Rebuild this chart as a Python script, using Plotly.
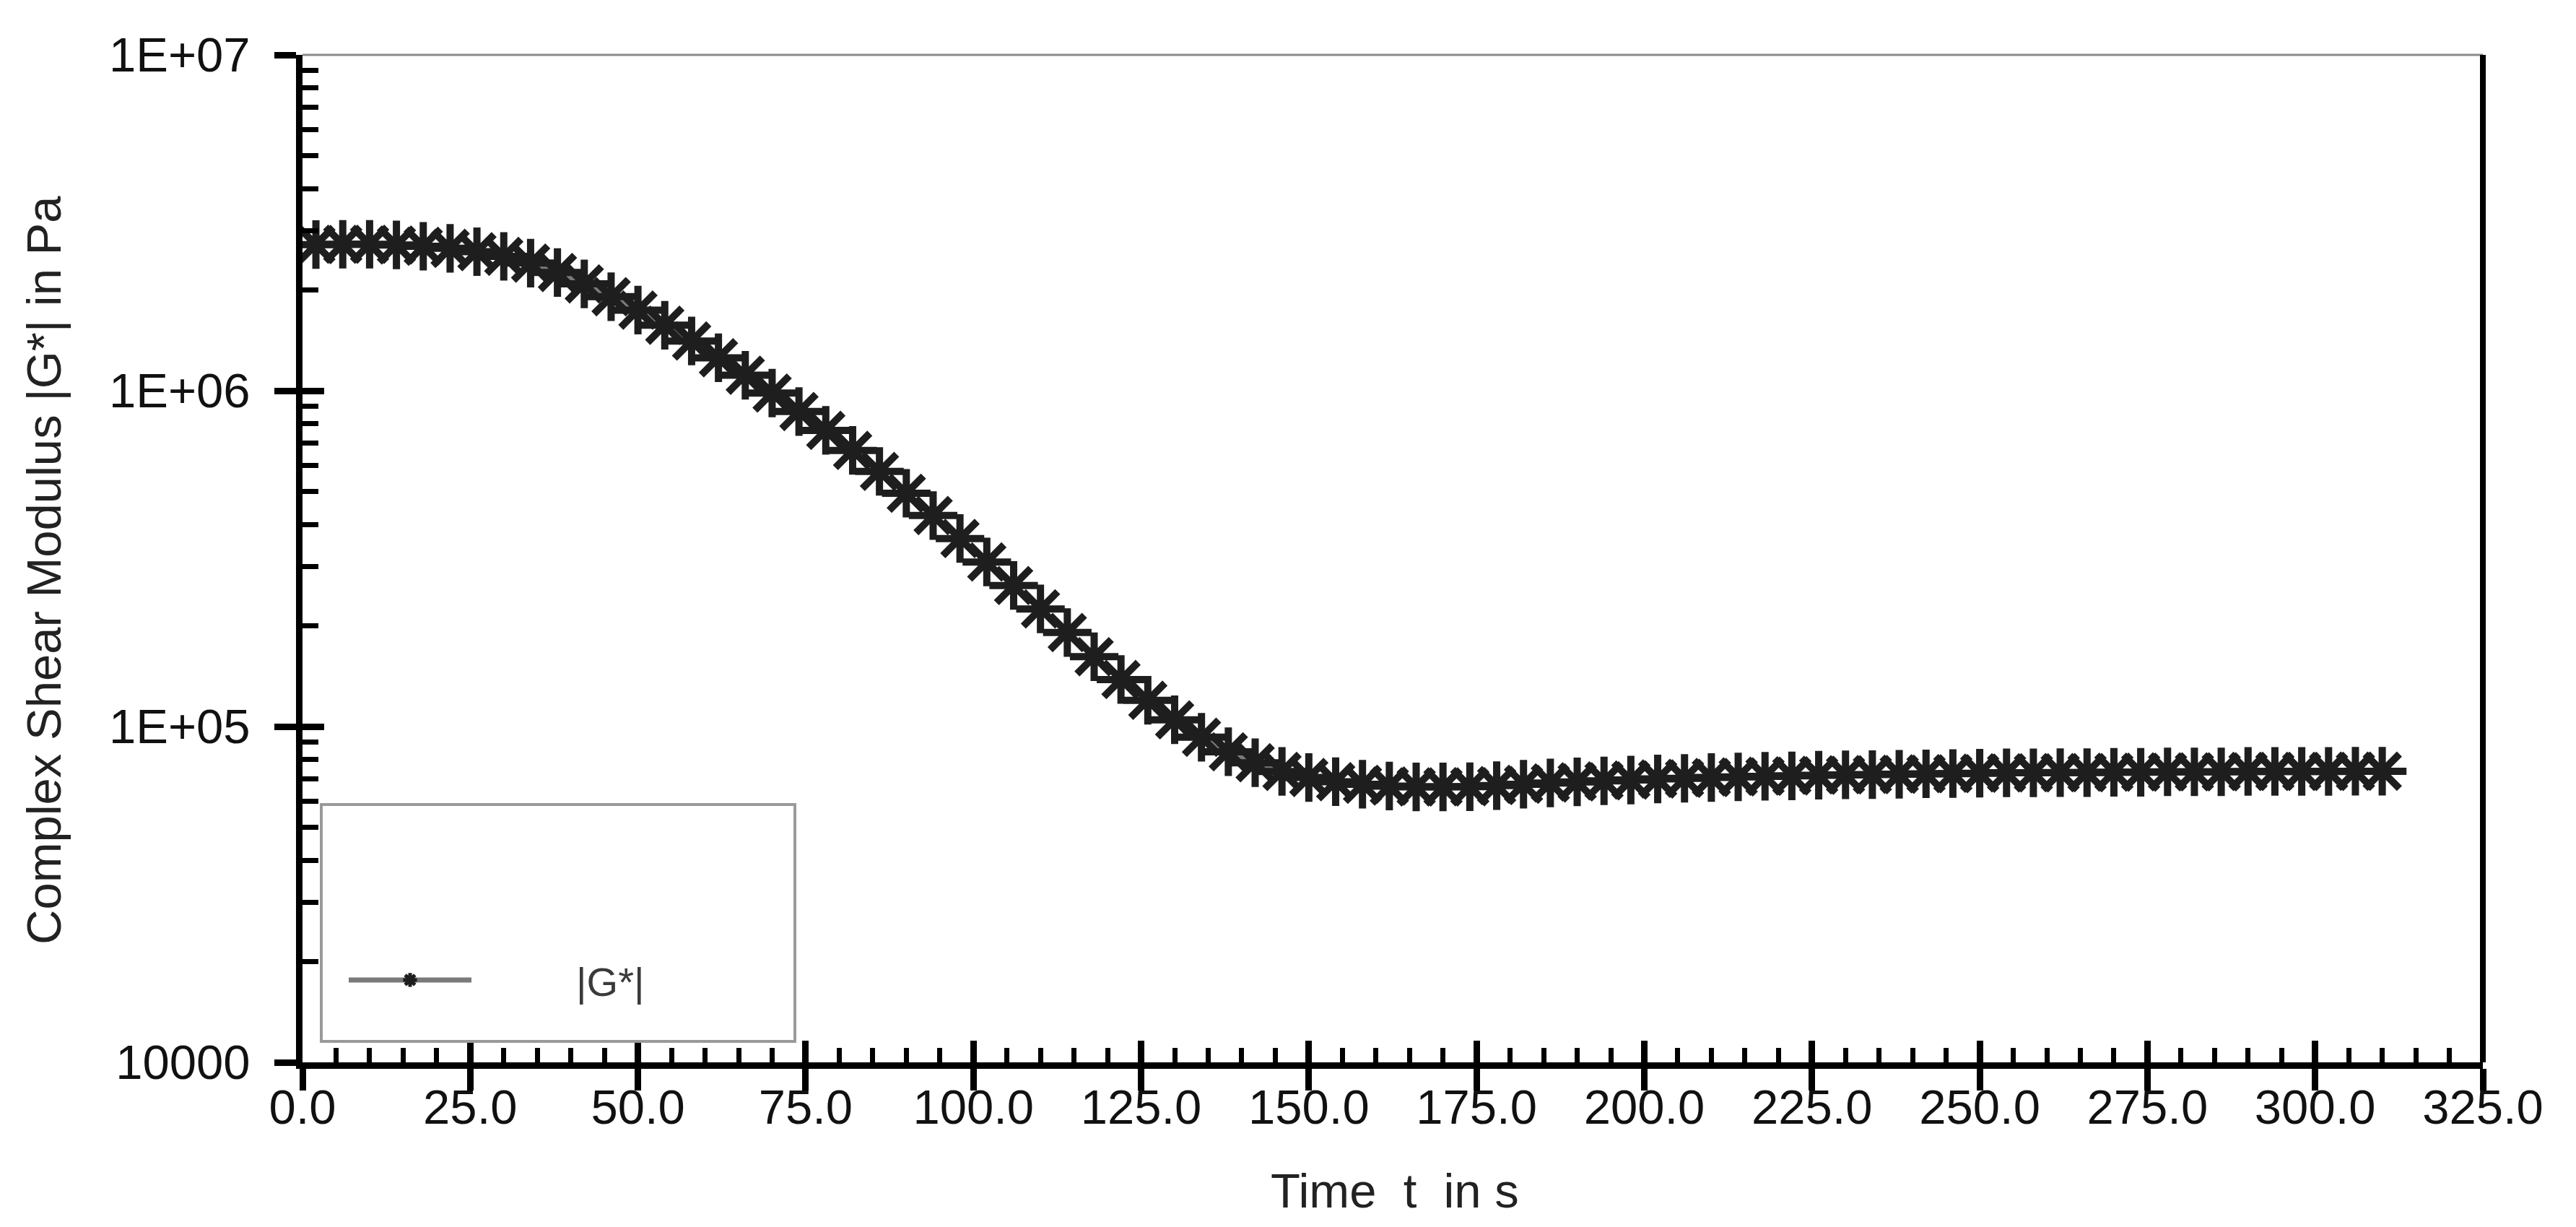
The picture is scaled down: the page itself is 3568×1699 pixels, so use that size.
import plotly.graph_objects as go

# ---- data ----
time_s = [2, 6, 10, 14, 18, 22, 26, 30, 34, 38, 42, 46, 50, 54, 58, 62, 66, 70, 74, 78,
          82, 86, 90, 94, 98, 102, 106, 110, 114, 118, 122, 126, 130, 134, 138, 142, 146, 150, 154, 158,
          162, 166, 170, 174, 178, 182, 186, 190, 194, 198, 202, 206, 210, 214, 218, 222, 226, 230, 234, 238,
          242, 246, 250, 254, 258, 262, 266, 270, 274, 278, 282, 286, 290, 294, 298, 302, 306, 310]

g_star_pa = [2.723e6, 2.729e6, 2.729e6, 2.716e6, 2.692e6, 2.655e6, 2.594e6, 2.512e6, 2.399e6, 2.249e6,
             2.080e6, 1.905e6, 1.738e6, 1.567e6, 1.406e6, 1.253e6, 1.112e6, 9.84e5, 8.67e5, 7.62e5,
             6.64e5, 5.75e5, 4.95e5, 4.25e5, 3.63e5, 3.09e5, 2.63e5, 2.24e5, 1.905e5, 1.614e5,
             1.380e5, 1.197e5, 1.047e5, 9.29e4, 8.41e4, 7.80e4, 7.35e4, 7.05e4, 6.85e4, 6.73e4,
             6.65e4, 6.61e4, 6.61e4, 6.62e4, 6.67e4, 6.73e4, 6.79e4, 6.84e4, 6.89e4, 6.93e4,
             6.98e4, 7.01e4, 7.05e4, 7.08e4, 7.11e4, 7.13e4, 7.16e4, 7.18e4, 7.19e4, 7.21e4,
             7.23e4, 7.24e4, 7.26e4, 7.28e4, 7.28e4, 7.29e4, 7.29e4, 7.31e4, 7.31e4, 7.33e4,
             7.33e4, 7.33e4, 7.35e4, 7.35e4, 7.35e4, 7.35e4, 7.36e4, 7.36e4]

series_name = "|G*|"

x_tick_vals = [0, 25, 50, 75, 100, 125, 150, 175, 200, 225, 250, 275, 300, 325]
x_tick_text = ["0.0", "25.0", "50.0", "75.0", "100.0", "125.0", "150.0", "175.0",
               "200.0", "225.0", "250.0", "275.0", "300.0", "325.0"]
y_tick_vals = [1e4, 1e5, 1e6, 1e7]
y_tick_text = ["10000", "1E+05", "1E+06", "1E+07"]

x_title = "Time\u00a0\u00a0t\u00a0\u00a0in s"
y_title = "Complex Shear Modulus |G*| in Pa"

# ---- axis configuration helpers ----
x_minor_vals = [v for v in range(0, 326, 5) if v % 25]
y_minor_vals = [m * 10 ** e for e in (4, 5, 6) for m in range(2, 10)]

FONT = "Liberation Sans, Arial, sans-serif"
W, H = 3568, 1699
ML, MR, MT, MB = 411, 137, 68, 236
PW, PH = W - ML - MR, H - MT - MB

fig = go.Figure()
fig.add_trace(go.Scatter(
    x=time_s, y=g_star_pa, mode="lines+markers",
    name="\u00a0" * 9 + series_name,
    line=dict(color="#7a7a7a", width=7),
    marker=dict(symbol="asterisk-open", size=56, color="#1e1e1e",
                line=dict(width=10, color="#1e1e1e")),
))
# empty trace that carries the overlay axes (inner halves of the crossing major ticks)
fig.add_trace(go.Scatter(x=[], y=[], xaxis="x2", yaxis="y2", showlegend=False,
                         hoverinfo="skip"))

tickfont = dict(family=FONT, size=67, color="#111111")

fig.update_layout(
    width=W, height=H,
    paper_bgcolor="white", plot_bgcolor="white",
    margin=dict(l=ML, r=MR, t=MT, b=MB),
    font=dict(family=FONT, color="#111111"),
    xaxis=dict(
        range=[0, 325], tickmode="array", tickvals=x_tick_vals, ticktext=x_tick_text,
        ticks="outside", ticklen=30, tickwidth=9, tickcolor="black",
        showline=True, linewidth=9, linecolor="black",
        showgrid=False, zeroline=False, tickfont=tickfont, ticklabelstandoff=-34,
        minor=dict(tickmode="array", tickvals=x_minor_vals, ticks="inside",
                   ticklen=20, tickwidth=7, tickcolor="black", showgrid=False),
    ),
    yaxis=dict(
        type="log", range=[4, 7], tickmode="array", tickvals=y_tick_vals, ticktext=y_tick_text,
        ticks="outside", ticklen=30, tickwidth=9, tickcolor="black",
        showline=True, linewidth=9, linecolor="black",
        showgrid=False, zeroline=False, tickfont=tickfont, ticklabelstandoff=20,
        minor=dict(tickmode="array", tickvals=y_minor_vals, ticks="inside",
                   ticklen=22, tickwidth=7, tickcolor="black", showgrid=False),
    ),
    xaxis2=dict(
        overlaying="x", anchor="y2", side="bottom", range=[0, 325],
        tickmode="array", tickvals=x_tick_vals, showticklabels=False,
        ticks="inside", ticklen=30, tickwidth=9, tickcolor="black",
        showline=False, showgrid=False, zeroline=False,
    ),
    yaxis2=dict(
        overlaying="y", anchor="x2", side="left", type="log", range=[4, 7],
        tickmode="array", tickvals=y_tick_vals, showticklabels=False,
        ticks="inside", ticklen=30, tickwidth=9, tickcolor="black",
        showline=False, showgrid=False, zeroline=False,
    ),
    showlegend=True,
    legend=dict(
        x=(470 - ML) / PW, y=(1463 - 1349) / PH,
        xanchor="left", yanchor="middle",
        bgcolor="rgba(0,0,0,0)", borderwidth=0,
        font=dict(family=FONT, size=56, color="#3a3a3a"),
        itemwidth=170,
    ),
)

# frame: thin grey top edge, black right edge, legend box
fig.add_shape(type="line", xref="paper", yref="paper", x0=0, x1=1, y0=1, y1=1,
              line=dict(color="#8a8a8a", width=3))
fig.add_shape(type="line", xref="paper", yref="paper", x0=1, x1=1, y0=0, y1=1,
              line=dict(color="black", width=8))
fig.add_shape(type="rect", xref="paper", yref="paper",
              x0=(437 - ML) / PW, x1=(1093 - ML) / PW,
              y0=(1463 - 1434) / PH, y1=(1463 - 1106) / PH,
              line=dict(color="#9a9a9a", width=4), fillcolor="rgba(0,0,0,0)")

# axis titles
fig.add_annotation(text=y_title, xref="paper", yref="paper",
                   x=(52 - ML) / PW, y=(1463 - 782) / PH, textangle=-90,
                   showarrow=False, xanchor="center", yanchor="middle",
                   font=dict(family=FONT, size=67, color="#222222"))
fig.add_annotation(text=x_title, xref="paper", yref="paper",
                   x=(1924 - ML) / PW, y=(1463 - 1640) / PH,
                   showarrow=False, xanchor="center", yanchor="middle",
                   font=dict(family=FONT, size=67, color="#222222"))

fig.write_html("out.html")
